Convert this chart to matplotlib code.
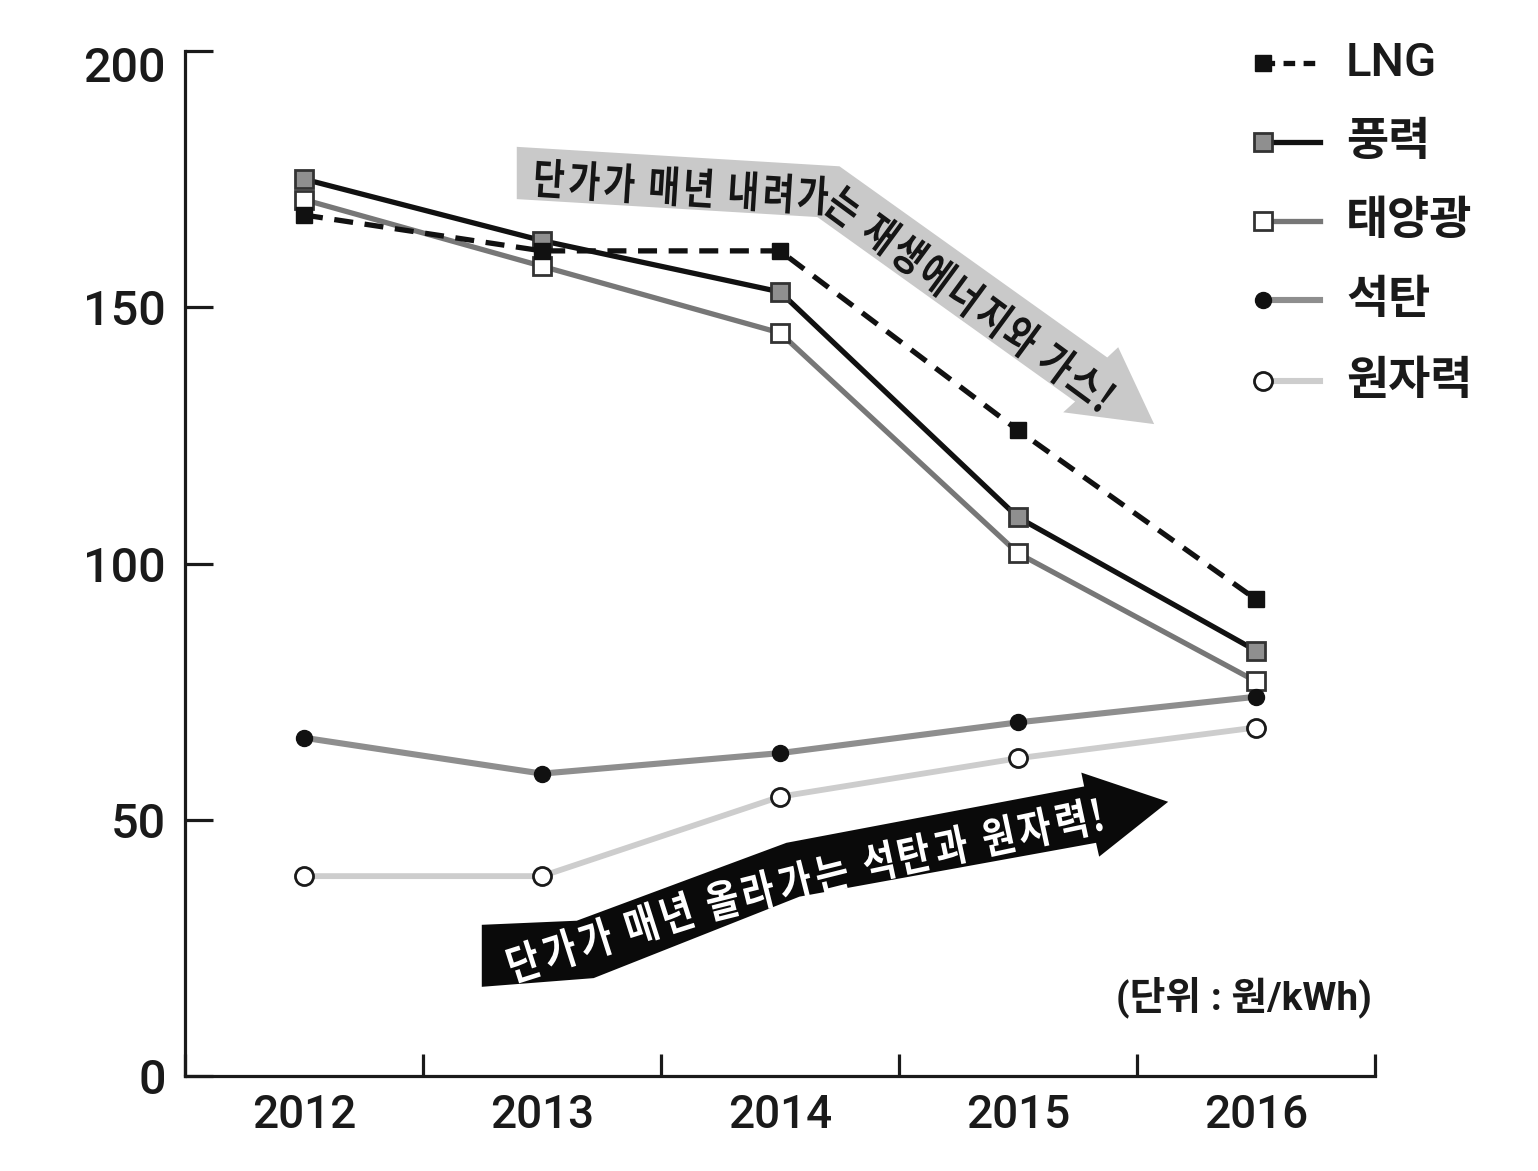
import numpy as np
import matplotlib
matplotlib.use("Agg")
import matplotlib.pyplot as plt
from matplotlib.patches import Polygon, PathPatch
from matplotlib.lines import Line2D
from matplotlib.textpath import TextPath
from matplotlib.font_manager import FontProperties
from matplotlib.transforms import Affine2D, ScaledTranslation

plt.rcParams['font.family'] = ['Roboto', 'Noto Sans CJK KR']

# ---- data (원/kWh) ----
years = [2012, 2013, 2014, 2015, 2016]
lng = [168, 161, 161, 126, 93]
wind = [175, 163, 153, 109, 83]
solar = [171, 158, 145, 102, 77]
coal = [66, 59, 63, 69, 74]
nuclear = [39, 39, 54.5, 62, 68]

series_names = ['LNG', '풍력', '태양광', '석탄', '원자력']
y_ticks = [0, 50, 100, 150, 200]
unit_label = '(단위 : 원/kWh)'
down_msg = '단가가 매년 내려가는 재생에너지와 가스!'
up_msg = '단가가 매년 올라가는 석탄과 원자력!'

W, H = 1538, 1171
fig = plt.figure(figsize=(W / 100, H / 100), dpi=100)
fig.patch.set_facecolor('white')
ax = fig.add_axes([185 / W, 1 - 1076 / H, (1375 - 185) / W, (1076 - 51) / H])

ax.set_xlim(2011.5, 2016.5)
ax.set_ylim(0, 200)
for s in ['top', 'right']:
    ax.spines[s].set_visible(False)
for s in ['left', 'bottom']:
    ax.spines[s].set_linewidth(2.3)
    ax.spines[s].set_color('#1a1a1a')

# x axis: separators between years (inward), year labels in between
ax.set_xticks([2011.5 + i for i in range(6)])
ax.set_xticklabels([])
ax.set_xticks(years, minor=True)
ax.set_xticklabels([str(y) for y in years], minor=True, fontsize=33, fontweight='medium')
ax.tick_params(axis='x', which='major', direction='in', length=16, width=2.3, color='#1a1a1a')
ax.tick_params(axis='x', which='minor', length=0, pad=12, labelcolor='#1a1a1a')

ax.set_yticks(y_ticks)
ax.set_yticklabels([str(v) for v in y_ticks], fontsize=35, fontweight='medium')
ax.tick_params(axis='y', direction='in', length=20, width=2.3, color='#1a1a1a', pad=14,
               labelcolor='#1a1a1a')
# the top label sits a little below its tick
top_lbl = ax.get_yticklabels()[-1]
top_lbl.set_transform(top_lbl.get_transform() +
                      ScaledTranslation(0, -0.13, fig.dpi_scale_trans))

# ---- series ----
ax.plot(years, nuclear, color='#cdcdcd', lw=4.2, marker='o', ms=13, mfc='white',
        mec='#1a1a1a', mew=2.0, zorder=3)
ax.plot(years, coal, color='#8e8e8e', lw=4.4, marker='o', ms=11.5, mfc='#111111',
        mec='#111111', zorder=4)
ax.plot(years, solar, color='#777777', lw=3.8, marker='s', ms=13, mfc='white',
        mec='#333333', mew=2.0, zorder=3)
ax.plot(years, wind, color='#111111', lw=3.8, marker='s', ms=13, mfc='#8f8f8f',
        mec='#333333', mew=2.0, zorder=4)
ax.plot(years, lng, color='#111111', lw=3.8, ls=(0, (3.6, 2.2)), marker='s', ms=12,
        mfc='#111111', mec='#111111', zorder=5)

# ---- trend arrows ----
down_arrow = [(2012.894, 181.3), (2014.250, 177.5), (2015.375, 140.2), (2015.421, 142.2),
              (2015.572, 127.2), (2015.190, 129.5), (2015.240, 131.6), (2014.157, 167.6),
              (2012.894, 171.1)]
up_arrow = [(2012.747, 29.5), (2013.146, 30.3), (2014.027, 45.5), (2015.278, 56.5),
            (2015.266, 59.2), (2015.631, 53.5), (2015.341, 42.8), (2015.328, 45.5),
            (2014.082, 35.0), (2013.217, 19.1), (2012.747, 17.4)]
ax.add_patch(Polygon(down_arrow, closed=True, fc='#c9c9c9', ec='none', zorder=1))
ax.add_patch(Polygon(up_arrow, closed=True, fc='#0a0a0a', ec='none', zorder=1))

label_font = FontProperties(family='Noto Sans CJK KR', weight='bold')


def text_along(path_pts, msg, start, em, xscale, adv_char, color):
    """Lay condensed glyphs of msg one by one along a polyline given in data coords."""
    pts = ax.transData.transform(np.array(path_pts))
    seg = np.diff(pts, axis=0)
    seg_len = np.hypot(seg[:, 0], seg[:, 1])
    cum = np.concatenate([[0], np.cumsum(seg_len)])
    pos = start
    prev_adv = None
    for ch in msg:
        if ch == ' ':
            adv = 0.27 * adv_char
        elif ch == '!':
            adv = 0.4 * adv_char
        else:
            adv = adv_char
        if prev_adv is not None:
            pos += (prev_adv + adv) / 2
        prev_adv = adv
        if ch == ' ':
            continue
        i = min(np.searchsorted(cum, pos, side='right') - 1, len(seg) - 1)
        t = (pos - cum[i]) / seg_len[i]
        xy = pts[i] + t * seg[i]
        ang = np.degrees(np.arctan2(seg[i][1], seg[i][0]))
        tp = TextPath((0, 0), ch, size=em, prop=label_font)
        bb = tp.get_extents()
        tr = (Affine2D().translate(-(bb.x0 + bb.x1) / 2, -0.38 * em)
              .scale(xscale, 1).rotate_deg(ang).translate(xy[0], xy[1]))
        fig.add_artist(PathPatch(tp, transform=tr, fc=color, ec='none', zorder=2))


text_along([(2012.957, 175.4), (2014.216, 171.7), (2015.433, 130.1)], down_msg,
           18, 43, 0.8, 35.0, '#151515')
text_along([(2012.852, 21.3), (2013.670, 33.4), (2014.342, 41.2), (2015.391, 51.6)], up_msg,
           18, 43, 0.84, 37.5, 'white')

# ---- unit ----
fig.text(1372 / W, 1 - 997 / H, unit_label, ha='right', va='center', fontsize=28,
         color='#1a1a1a', family=['Roboto', 'Noto Sans CJK KR'], weight='bold')

# ---- legend ----
legend_rows = [63, 142, 221, 300, 381]
legend_styles = [
    dict(color='#111111', lw=3.8, ls=(0, (2.2, 1.6)), marker='s', ms=12, mfc='#111111', mec='#111111'),
    dict(color='#111111', lw=3.8, ls='-', marker='s', ms=13, mfc='#8f8f8f', mec='#333333', mew=2.0),
    dict(color='#777777', lw=3.8, ls='-', marker='s', ms=13, mfc='white', mec='#333333', mew=2.0),
    dict(color='#8e8e8e', lw=4.4, ls='-', marker='o', ms=11.5, mfc='#111111', mec='#111111'),
    dict(color='#cdcdcd', lw=4.4, ls='-', marker='o', ms=13, mfc='white', mec='#1a1a1a', mew=2.0),
]
for name, yrow, st in zip(series_names, legend_rows, legend_styles):
    yf = 1 - yrow / H
    line = Line2D([1263 / W, 1320 / W], [yf, yf], transform=fig.transFigure,
                  markevery=[0], **st)
    fig.add_artist(line)
    fig.text(1346 / W, yf, name, ha='left', va='center',
             fontsize=34 if name == 'LNG' else 33, color='#1a1a1a',
             family=['Roboto', 'Noto Sans CJK KR'],
             weight='medium' if name == 'LNG' else 'bold')

fig.savefig('out.png', dpi=100, facecolor='white')
